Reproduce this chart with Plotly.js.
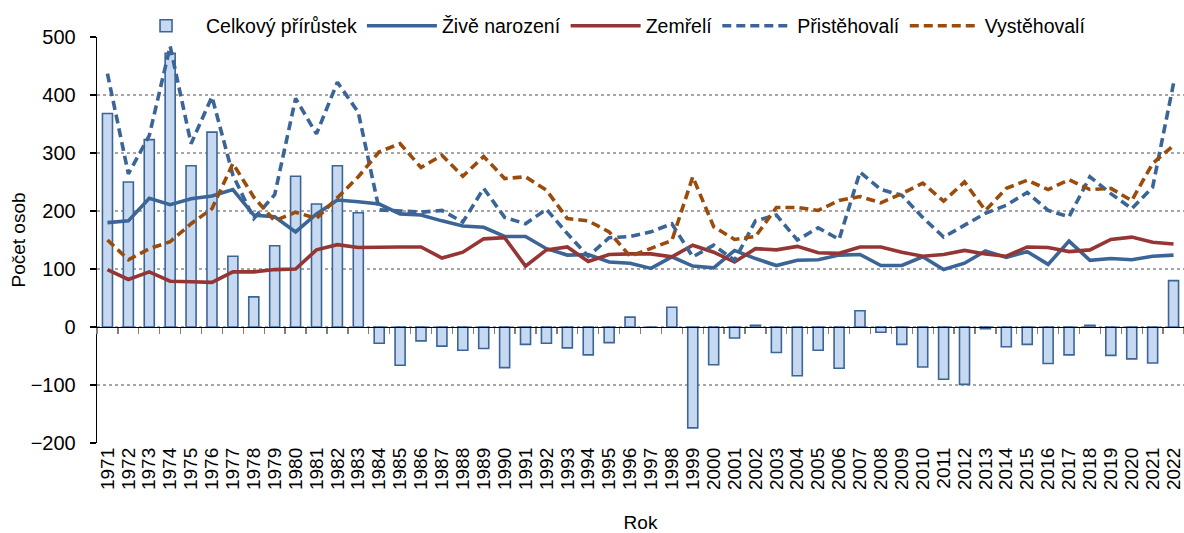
<!DOCTYPE html>
<html>
<head>
<meta charset="utf-8">
<script src="https://cdn.plot.ly/plotly-3.0.1.min.js"></script>
<style>
  html, body { margin: 0; padding: 0; background: #ffffff; }
  #chart { width: 1184px; height: 533px; }
</style>
</head>
<body>
<div id="chart"></div>
<script>
const years = ["1971","1972","1973","1974","1975","1976","1977","1978","1979","1980",
  "1981","1982","1983","1984","1985","1986","1987","1988","1989","1990",
  "1991","1992","1993","1994","1995","1996","1997","1998","1999","2000",
  "2001","2002","2003","2004","2005","2006","2007","2008","2009","2010",
  "2011","2012","2013","2014","2015","2016","2017","2018","2019","2020",
  "2021","2022"];

const celkovyPrirustek = [368,250,323,472,278,336,122,52,140,260,
  212,278,197,-28,-66,-24,-33,-40,-37,-70,
  -30,-28,-36,-48,-27,17,0,34,-174,-65,
  -19,3,-44,-84,-40,-71,28,-9,-30,-69,
  -90,-99,-3,-34,-30,-63,-48,3,-49,-55,
  -62,80];

const ziveNarozeni = [180,183,222,211,221,226,237,193,190,164,
  195,219,216,212,195,193,183,174,172,156,
  156,135,124,125,112,110,101,121,105,102,
  132,118,106,115,116,124,125,106,106,121,
  99,110,131,120,130,108,148,115,118,116,
  122,124];

const zemreli = [99,82,95,79,78,77,95,95,99,100,
  133,142,137,138,138,138,119,129,152,154,
  105,133,138,113,125,126,126,121,141,129,
  112,135,133,139,128,127,138,138,129,122,
  125,132,126,122,138,137,130,133,151,155,
  146,143];

const pristehovali = [437,264,330,484,316,397,262,187,228,394,
  333,422,370,202,200,198,201,181,239,189,
  178,203,161,122,154,156,164,178,121,141,
  115,183,193,150,171,151,267,237,227,189,
  155,175,196,210,232,201,190,259,230,204,
  241,420];

const vystehovali = [150,116,135,147,178,204,282,224,183,198,
  187,224,259,302,316,275,296,260,294,256,
  259,236,187,183,164,122,135,149,259,173,
  151,156,206,206,201,218,225,214,230,248,
  217,250,201,239,253,237,254,237,239,218,
  282,313];

const seriesNames = ["Celkový přírůstek","Živě narození","Zemřelí","Přistěhovalí","Vystěhovalí"];

const blue = "#3b6597";
const red = "#963634";
const orange = "#9a4c0c";
const dashPat = "9px,5px";

const traces = [
  {type:"bar", name:seriesNames[0], x:years, y:celkovyPrirustek,
   marker:{color:"#c6d9f1", line:{color:"#3b6597", width:1.6}}},
  {type:"scatter", mode:"lines", name:seriesNames[1], x:years, y:ziveNarozeni,
   line:{color:blue, width:3.6}},
  {type:"scatter", mode:"lines", name:seriesNames[2], x:years, y:zemreli,
   line:{color:red, width:3.6}},
  {type:"scatter", mode:"lines", name:seriesNames[3], x:years, y:pristehovali,
   line:{color:blue, width:3.6, dash:dashPat}},
  {type:"scatter", mode:"lines", name:seriesNames[4], x:years, y:vystehovali,
   line:{color:orange, width:3.6, dash:dashPat}},
  {type:"scatter", mode:"lines", x:years, y:years.map(()=>null), xaxis:"x2",
   showlegend:false, hoverinfo:"skip"}
];

const layout = {
  width:1184, height:533,
  margin:{l:97, r:0, t:37, b:90},
  paper_bgcolor:"#ffffff", plot_bgcolor:"#ffffff",
  font:{family:"Liberation Sans, Arial, sans-serif", color:"#000000", size:19},
  bargap:0.52,
  showlegend:true,
  legend:{orientation:"h", x:0.0267, xanchor:"left", y:1.027, yanchor:"middle",
          font:{size:19.5}, itemwidth:70, bgcolor:"rgba(0,0,0,0)"},
  xaxis:{type:"category", showline:false, ticks:"", showgrid:false, zeroline:false,
         tickmode:"array", tickvals:years, ticktext:years,
         tickangle:-90, tickfont:{size:19}, range:[-0.5,51.5],
         title:{text:"Rok", font:{size:19}, standoff:26}},
  xaxis2:{type:"category", overlaying:"x", anchor:"free", position:200/700,
          matches:"x", showline:true, linecolor:"#000000", linewidth:1.3,
          ticks:"outside", tickson:"boundaries", ticklen:6, tickcolor:"#7f7f7f",
          tickwidth:1.3, showticklabels:false, showgrid:false, zeroline:false},
  yaxis:{range:[-200,500], dtick:100, showline:true, linecolor:"#000000", linewidth:1.3,
         ticks:"outside", ticklen:6, tickcolor:"#000000", tickwidth:1.3,
         ticklabelstandoff:10,
         showgrid:true, gridcolor:"#a6a6a6", gridwidth:1.5, griddash:"dot",
         zeroline:false, tickfont:{size:20},
         title:{text:"Počet osob", font:{size:19}, standoff:0}}
};

Plotly.newPlot("chart", traces, layout, {displayModeBar:false, staticPlot:true});
</script>
</body>
</html>
